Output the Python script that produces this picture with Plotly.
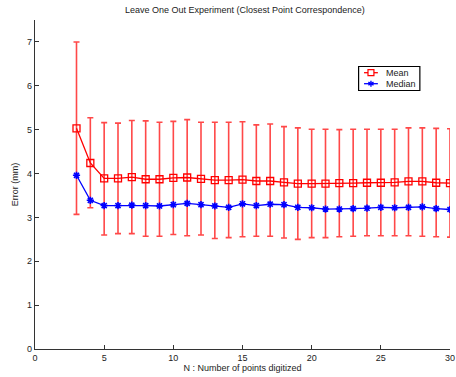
import plotly.graph_objects as go

n_points = list(range(3, 31))
mean_err = [5.03, 4.24, 3.89, 3.89, 3.92, 3.87, 3.87, 3.90, 3.91, 3.88, 3.85, 3.85, 3.86, 3.83,
            3.83, 3.80, 3.77, 3.77, 3.77, 3.78, 3.78, 3.79, 3.79, 3.80, 3.82, 3.82, 3.79, 3.78]
mean_upper = [7.00, 5.27, 5.16, 5.15, 5.21, 5.20, 5.17, 5.19, 5.23, 5.17, 5.17, 5.17, 5.18, 5.11,
              5.13, 5.07, 5.04, 5.01, 5.01, 5.00, 5.01, 5.01, 5.01, 5.01, 5.04, 5.04, 5.03, 5.02]
mean_lower = [3.07, 3.22, 2.60, 2.63, 2.63, 2.57, 2.57, 2.61, 2.58, 2.60, 2.52, 2.54, 2.56, 2.57,
              2.57, 2.53, 2.50, 2.54, 2.54, 2.56, 2.57, 2.58, 2.58, 2.58, 2.58, 2.57, 2.56, 2.55]
median_err = [3.96, 3.39, 3.27, 3.27, 3.28, 3.27, 3.26, 3.29, 3.32, 3.29, 3.26, 3.23, 3.31, 3.27,
              3.30, 3.29, 3.23, 3.22, 3.19, 3.19, 3.20, 3.21, 3.23, 3.22, 3.23, 3.24, 3.20, 3.18]
x_ticks = [0, 5, 10, 15, 20, 25, 30]
y_ticks = [0, 1, 2, 3, 4, 5, 6, 7]
series_names = ["Mean", "Median"]

err_plus = [u - m for u, m in zip(mean_upper, mean_err)]
err_minus = [m - l for m, l in zip(mean_err, mean_lower)]

FONT = "Liberation Sans, Arial, Helvetica, sans-serif"
RED = "#ff0000"
BLUE = "#0000ff"

fig = go.Figure()
fig.add_trace(go.Scatter(
    x=n_points, y=mean_err, name=series_names[0], mode="lines+markers",
    line=dict(color=RED, width=1.3),
    marker=dict(symbol="square-open", size=7, color=RED, line=dict(width=1.3)),
    error_y=dict(type="data", array=err_plus, arrayminus=err_minus, color="rgba(255,40,40,0.85)",
                 thickness=1.6, width=3),
))
fig.add_trace(go.Scatter(
    x=n_points, y=median_err, name=series_names[1], mode="lines+markers",
    line=dict(color=BLUE, width=1.3),
    marker=dict(symbol="asterisk-open", size=6, color=BLUE, line=dict(width=1.6, color=BLUE)),
))

# --- manual compact legend (pixel geometry -> paper coords) ---
L, R, T, B = 35, 455, 20, 349
def px(xp):
    return (xp - L) / (R - L)
def py(yp):
    return (B - yp) / (B - T)

shapes = []
annotations = []
shapes.append(dict(type="rect", xref="paper", yref="paper",
                   x0=px(362.5), x1=px(424.5), y0=py(90.5), y1=py(66.5),
                   line=dict(color="black", width=1.2), fillcolor="white", layer="above"))
rows = [(72.7, RED), (83.7, BLUE)]
for (yy, col), name in zip(rows, series_names):
    shapes.append(dict(type="line", xref="paper", yref="paper",
                       x0=px(368), x1=px(382), y0=py(yy), y1=py(yy),
                       line=dict(color=col, width=1.3), layer="above"))
    annotations.append(dict(text=name, xref="paper", yref="paper", x=px(388), y=py(yy),
                            xanchor="left", yanchor="middle", showarrow=False,
                            font=dict(size=9, family=FONT, color="#222")))
# mean legend marker: open square
shapes.append(dict(type="rect", xref="paper", yref="paper",
                   x0=px(372), x1=px(378), y0=py(75.7), y1=py(69.7),
                   line=dict(color=RED, width=1.2), fillcolor="white", layer="above"))
# median legend marker: asterisk
cx, cy, r = 375, 83.7, 3
for dx, dy in [(0, r), (r * 0.87, r * 0.5), (r * 0.87, -r * 0.5)]:
    shapes.append(dict(type="line", xref="paper", yref="paper",
                       x0=px(cx - dx), x1=px(cx + dx), y0=py(cy - dy), y1=py(cy + dy),
                       line=dict(color=BLUE, width=1.4), layer="above"))

fig.update_layout(
    width=456, height=377,
    margin=dict(l=35, r=1, t=20, b=28),
    paper_bgcolor="white", plot_bgcolor="white",
    font=dict(family=FONT, size=9, color="#222"),
    title=dict(text="Leave One Out Experiment (Closest Point Correspondence)",
               x=0.537, xref="container", xanchor="center",
               y=1 - 9.5 / 377, yref="container", yanchor="middle",
               font=dict(size=9, family=FONT, color="#222")),
    showlegend=False,
    shapes=shapes,
    annotations=annotations,
)
fig.update_xaxes(range=[0, 30], tickvals=x_ticks, ticktext=[str(v) for v in x_ticks],
                 ticks="inside", ticklen=4, tickcolor="#333", showline=True, linecolor="#333",
                 linewidth=1.3, showgrid=False, zeroline=False, mirror=False,
                 ticklabeloverflow="allow",
                 title=dict(text="N : Number of points digitized", standoff=2, font=dict(size=9)),
                 tickfont=dict(size=9))
fig.update_yaxes(range=[0, 7.5], tickvals=y_ticks, ticktext=[str(v) for v in y_ticks],
                 ticks="inside", ticklen=4, tickcolor="#333", showline=True, linecolor="#333",
                 linewidth=1.3, showgrid=False, zeroline=False, mirror=False,
                 title=dict(text="Error (mm)", standoff=6, font=dict(size=9)),
                 tickfont=dict(size=9))

fig.write_html("out.html")
